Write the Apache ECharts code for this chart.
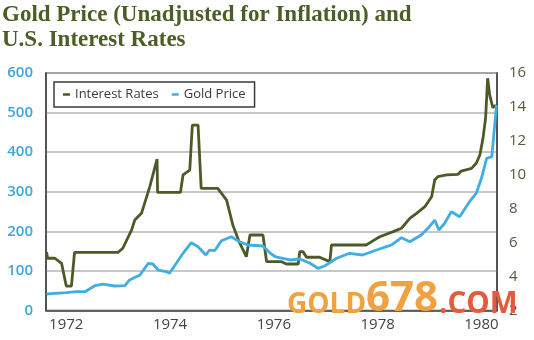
<!DOCTYPE html>
<html>
<head>
<meta charset="utf-8">
<script src="https://cdn.jsdelivr.net/npm/echarts@6/dist/echarts.min.js"></script>
<style>
html,body{margin:0;padding:0;background:#fff;}
#chart{width:534px;height:340px;}
</style>
</head>
<body>
<div id="chart"></div>
<script>
// ---- Data ----
const titleLines = ['Gold Price (Unadjusted for Inflation) and', 'U.S. Interest Rates'];
const seriesNames = ['Interest Rates', 'Gold Price'];
const yearTicks = [1972, 1974, 1976, 1978, 1980];

// Interest rates (%), right axis
const rateYears = [1971.62,1971.64,1971.78,1971.91,1972.00,1972.10,1972.16,1973.00,1973.09,1973.26,1973.32,1973.45,1973.61,1973.75,1973.76,1974.20,1974.25,1974.38,1974.43,1974.54,1974.60,1974.92,1975.09,1975.21,1975.33,1975.47,1975.54,1975.79,1975.86,1976.15,1976.24,1976.47,1976.50,1976.56,1976.63,1976.88,1977.08,1977.11,1977.78,1977.94,1978.04,1978.30,1978.46,1978.62,1978.75,1978.91,1979.04,1979.10,1979.16,1979.33,1979.55,1979.61,1979.81,1979.90,1979.97,1980.03,1980.08,1980.12,1980.16,1980.22,1980.28];
const rateValues = [5.45,5.08,5.08,4.78,3.44,3.44,5.43,5.43,5.67,6.75,7.33,7.73,9.30,10.93,8.96,8.96,9.99,10.28,12.93,12.93,9.20,9.20,8.51,7.04,6.06,5.17,6.45,6.45,4.88,4.88,4.74,4.74,5.47,5.47,5.14,5.14,4.88,5.86,5.86,6.16,6.35,6.65,6.85,7.43,7.73,8.12,8.71,9.69,9.89,9.99,10.03,10.22,10.38,10.68,11.17,12.15,13.33,15.69,14.70,13.95,14.11];

// Gold price (US$), left axis
const goldYears = [1971.62,1972.00,1972.20,1972.36,1972.55,1972.71,1972.93,1973.13,1973.22,1973.42,1973.58,1973.67,1973.77,1973.93,1973.99,1974.12,1974.25,1974.41,1974.54,1974.69,1974.76,1974.86,1974.99,1975.18,1975.34,1975.50,1975.79,1975.95,1976.04,1976.31,1976.50,1976.69,1976.85,1976.98,1977.21,1977.46,1977.71,1977.98,1978.17,1978.27,1978.46,1978.62,1978.84,1978.97,1979.10,1979.18,1979.29,1979.42,1979.58,1979.77,1979.90,1980.00,1980.10,1980.20,1980.29];
const goldValues = [41.7,45.0,47.5,47.5,62.7,66.9,61.9,62.7,77.1,89.7,119.2,117.5,102.3,98.0,94.0,119.2,144.5,171.3,161.2,140.2,152.8,151.1,176.3,186.4,173.8,165.5,162.9,142.7,135.2,127.6,130.1,120.0,106.6,112.4,131.9,144.5,140.2,152.8,161.2,165.5,183.9,173.8,190.7,207.7,228.6,203.4,220.3,249.6,237.0,274.9,296.1,334.0,384.5,388.5,519.1];

const watermarkParts = ['GOLD', '678', '.COM'];

// ---- Chart ----
const pair = (xs, ys) => xs.map((x, i) => [x, ys[i]]);
const chart = echarts.init(document.getElementById('chart'), null, {renderer: 'canvas'});
const SANS = '"Open Sans", sans-serif';
const darkLine = '#4b5a27';
const blueLine = '#41aee3';

chart.setOption({
  animation: false,
  backgroundColor: '#fff',
  grid: {left: 46, right: 37, top: 73, bottom: 29.5, show: true, borderColor: '#4a4a4a', borderWidth: 1.5, backgroundColor: 'transparent'},
  legend: {
    data: seriesNames,
    left: 54, top: 82,
    icon: 'rect', itemWidth: 7, itemHeight: 2.5, itemGap: 13,
    padding: [6, 9, 6, 9],
    borderColor: '#3a3a3a', borderWidth: 1.5, backgroundColor: '#fff',
    textStyle: {color: '#3a3a3a', fontSize: 13, fontFamily: SANS}
  },
  xAxis: {
    type: 'value', min: 1971.61, max: 1980.3,
    axisLine: {show: true, lineStyle: {color: '#4a4a4a', width: 1.5}},
    axisTick: {show: false},
    splitLine: {show: false},
    axisLabel: {customValues: yearTicks, formatter: v => String(v), color: '#444', fontSize: 15, fontFamily: SANS, margin: 7}
  },
  yAxis: [
    {type: 'value', min: 0, max: 600, interval: 100, position: 'left',
     axisLine: {show: true, lineStyle: {color: '#4a4a4a', width: 1.5}},
     axisTick: {show: false},
     splitLine: {show: true, lineStyle: {color: '#b5b5b5', width: 1.5}},
     axisLabel: {color: '#3ba7dc', fontSize: 15, fontWeight: 600, fontFamily: SANS, margin: 13}},
    {type: 'value', min: 2, max: 16, interval: 2, position: 'right',
     axisLine: {show: true, lineStyle: {color: '#4a4a4a', width: 1.5}},
     axisTick: {show: false},
     splitLine: {show: false},
     axisLabel: {color: '#55593f', fontSize: 15, fontFamily: SANS, margin: 12}}
  ],
  series: [
    {name: seriesNames[0], type: 'line', yAxisIndex: 1, data: pair(rateYears, rateValues),
     symbol: 'none', lineStyle: {color: darkLine, width: 2.8}, itemStyle: {color: darkLine}},
    {name: seriesNames[1], type: 'line', yAxisIndex: 0, data: pair(goldYears, goldValues),
     symbol: 'none', lineStyle: {color: blueLine, width: 2.8}, itemStyle: {color: blueLine}}
  ],
  graphic: [
    {type: 'text', left: 2, top: 4, z: 10, style: {text: titleLines[0], font: 'bold 23px "Liberation Serif", serif', fill: '#4a5e25'}},
    {type: 'text', left: 2, top: 29, z: 10, style: {text: titleLines[1], font: 'bold 23px "Liberation Serif", serif', fill: '#4a5e25'}},
    {type: 'text', left: 287, top: 291, z: 20, style: {text: watermarkParts[0], font: 'bold 28px "Open Sans", sans-serif', fill: '#f1a141'}},
    {type: 'text', left: 366, top: 278, z: 20, style: {text: watermarkParts[1], font: 'bold 42px "Open Sans", sans-serif', fill: '#f1a141'}},
    {type: 'text', left: 439, top: 290, z: 20, style: {text: watermarkParts[2], font: 'bold 29.5px "Open Sans", sans-serif', fill: '#e35a3c'}}
  ]
});
</script>
</body>
</html>
